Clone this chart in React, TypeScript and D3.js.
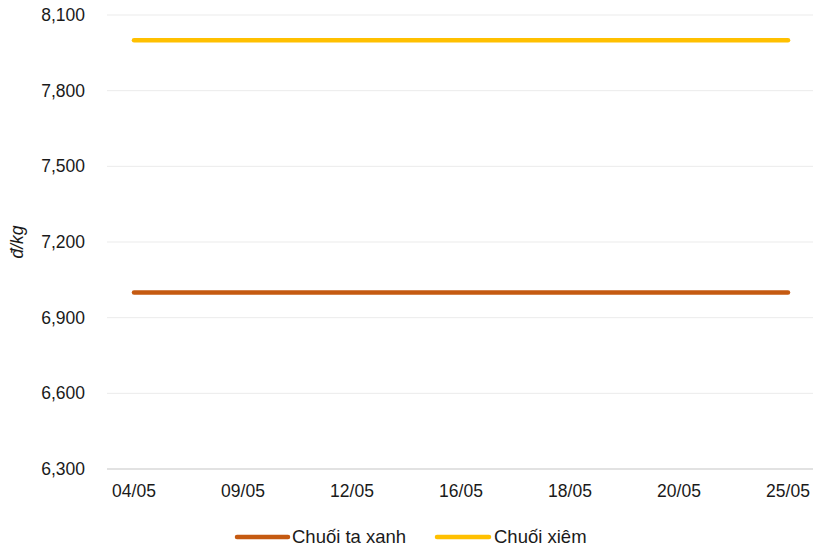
import React from "react";
import * as d3 from "d3";

const categories = ["04/05", "09/05", "12/05", "16/05", "18/05", "20/05", "25/05"];
const seriesNames = ["Chuối ta xanh", "Chuối xiêm"];
const chuoiTaXanh = [7000, 7000, 7000, 7000, 7000, 7000, 7000];
const chuoiXiem = [8000, 8000, 8000, 8000, 8000, 8000, 8000];
const yTicks = [6300, 6600, 6900, 7200, 7500, 7800, 8100];
const colors = ["#C55A11", "#FFC000"];

const W = 813;
const H = 548;
const gridLeft = 107;
const gridRight = 813;
const top = 15;
const bottom = 469;

export default function App() {
  const x = d3.scalePoint<string>().domain(categories).range([134, 788]);
  const y = d3.scaleLinear().domain([6300, 8100]).range([bottom, top]);
  const line = d3
    .line<number>()
    .x((_, i) => x(categories[i]) as number)
    .y((d) => y(d));
  const series = [chuoiTaXanh, chuoiXiem];
  const font = "'Liberation Sans', Arial, sans-serif";
  const legendItems = [
    { x1: 237, x2: 288, tx: 292 },
    { x1: 437, x2: 489, tx: 494 },
  ];
  return (
    <svg
      width={W}
      height={H}
      style={{ position: "absolute", left: 0, top: 0, background: "#fff" }}
      fontFamily={font}
    >
      {yTicks.map((t) => (
        <g key={t}>
          {t !== 6300 && (
            <line x1={gridLeft} x2={gridRight} y1={y(t)} y2={y(t)} stroke="#ebebeb" strokeWidth={1} />
          )}
          <text x={85} y={y(t)} dy="0.35em" textAnchor="end" fontSize={17.5} fill="#1a1a1a">
            {d3.format(",")(t)}
          </text>
        </g>
      ))}
      <line x1={gridLeft} x2={gridRight} y1={y(6300)} y2={y(6300)} stroke="#d9d9d9" strokeWidth={1.5} />
      {categories.map((c) => (
        <text key={c} x={x(c)} y={497} textAnchor="middle" fontSize={17.5} fill="#1a1a1a">
          {c}
        </text>
      ))}
      <text
        transform={`translate(23,242) rotate(-90)`}
        textAnchor="middle"
        fontSize={17.5}
        fontStyle="italic"
        fill="#1a1a1a"
      >
        đ/kg
      </text>
      {series.map((s, i) => (
        <path
          key={i}
          d={line(s) || ""}
          fill="none"
          stroke={colors[i]}
          strokeWidth={4.5}
          strokeLinecap="round"
        />
      ))}
      {seriesNames.map((n, i) => (
        <g key={n}>
          <line
            x1={legendItems[i].x1}
            x2={legendItems[i].x2}
            y1={537}
            y2={537}
            stroke={colors[i]}
            strokeWidth={4.5}
            strokeLinecap="round"
          />
          <text x={legendItems[i].tx} y={537} dy="0.35em" fontSize={18.5} fill="#1a1a1a">
            {n}
          </text>
        </g>
      ))}
    </svg>
  );
}
